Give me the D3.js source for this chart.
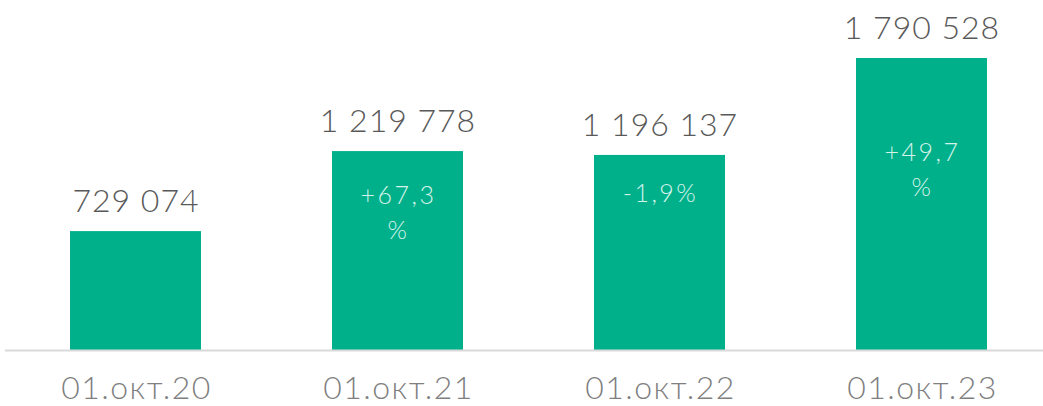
<!DOCTYPE html>
<html>
<head>
<meta charset="utf-8">
<script src="https://cdn.jsdelivr.net/npm/d3@7"></script>
<style>
  body { margin: 0; background: #fff; }
  text { font-family: "Lato Light", "Lato", "Open Sans", sans-serif; font-weight: 300; }
</style>
</head>
<body>
<div id="chart"></div>
<script>
// Chart data
const dates = ["01.окт.20", "01.окт.21", "01.окт.22", "01.окт.23"];
const values = [729074, 1219778, 1196137, 1790528];
const changes = [null, ["+67,3", "%"], ["-1,9%"], ["+49,7", "%"]];

// Where the change labels sit below each bar top (px)
const changeOffsets = [0, 44, 38, 94];

const width = 1043;
const height = 406;
const baseline = 350;

const svg = d3.select("#chart")
  .append("svg")
  .attr("width", width)
  .attr("height", height);

// Scales
const x = d3.scaleBand()
  .domain(dates)
  .range([4.5, 1052.5])
  .paddingInner(0.5)
  .paddingOuter(0.25);

const y = d3.scaleLinear()
  .domain([0, d3.max(values)])
  .range([baseline, 58]);

// Bars
svg.selectAll("rect.bar")
  .data(values)
  .enter()
  .append("rect")
  .attr("class", "bar")
  .attr("x", (d, i) => x(dates[i]))
  .attr("y", d => y(d))
  .attr("width", x.bandwidth())
  .attr("height", d => y(0) - y(d))
  .attr("fill", "#00b08a");

// Baseline
svg.append("line")
  .attr("x1", 5)
  .attr("x2", width)
  .attr("y1", baseline + 0.5)
  .attr("y2", baseline + 0.5)
  .attr("stroke", "#d9d9d9")
  .attr("stroke-width", 2);

// Value labels above the bars
const fmt = v => d3.format(",")(v).replace(/,/g, " ");
svg.selectAll("text.value")
  .data(values)
  .enter()
  .append("text")
  .attr("class", "value")
  .attr("x", (d, i) => x(dates[i]) + x.bandwidth() / 2 + 0.5)
  .attr("y", d => y(d) - 19)
  .attr("text-anchor", "middle")
  .attr("font-size", 32)
  .attr("letter-spacing", 1)
  .attr("fill", "#595959")
  .text(d => fmt(d));

// Change labels inside the bars
changes.forEach((lines, i) => {
  if (!lines) return;
  const cx = x(dates[i]) + x.bandwidth() / 2 + 1;
  const t = svg.append("text")
    .attr("x", cx)
    .attr("y", y(values[i]) + changeOffsets[i] + 9)
    .attr("text-anchor", "middle")
    .attr("font-size", 25)
    .attr("letter-spacing", 2.5)
    .attr("fill", "#d6f3ea");
  lines.forEach((s, j) => {
    t.append("tspan")
      .attr("x", cx)
      .attr("dy", j === 0 ? 0 : 35)
      .text(s);
  });
});

// Category labels
svg.selectAll("text.cat")
  .data(dates)
  .enter()
  .append("text")
  .attr("class", "cat")
  .attr("x", d => x(d) + x.bandwidth() / 2 + 1)
  .attr("y", 399)
  .attr("text-anchor", "middle")
  .attr("font-size", 32)
  .attr("letter-spacing", 1.5)
  .attr("fill", "#7f7f7f")
  .text(d => d);
</script>
</body>
</html>
